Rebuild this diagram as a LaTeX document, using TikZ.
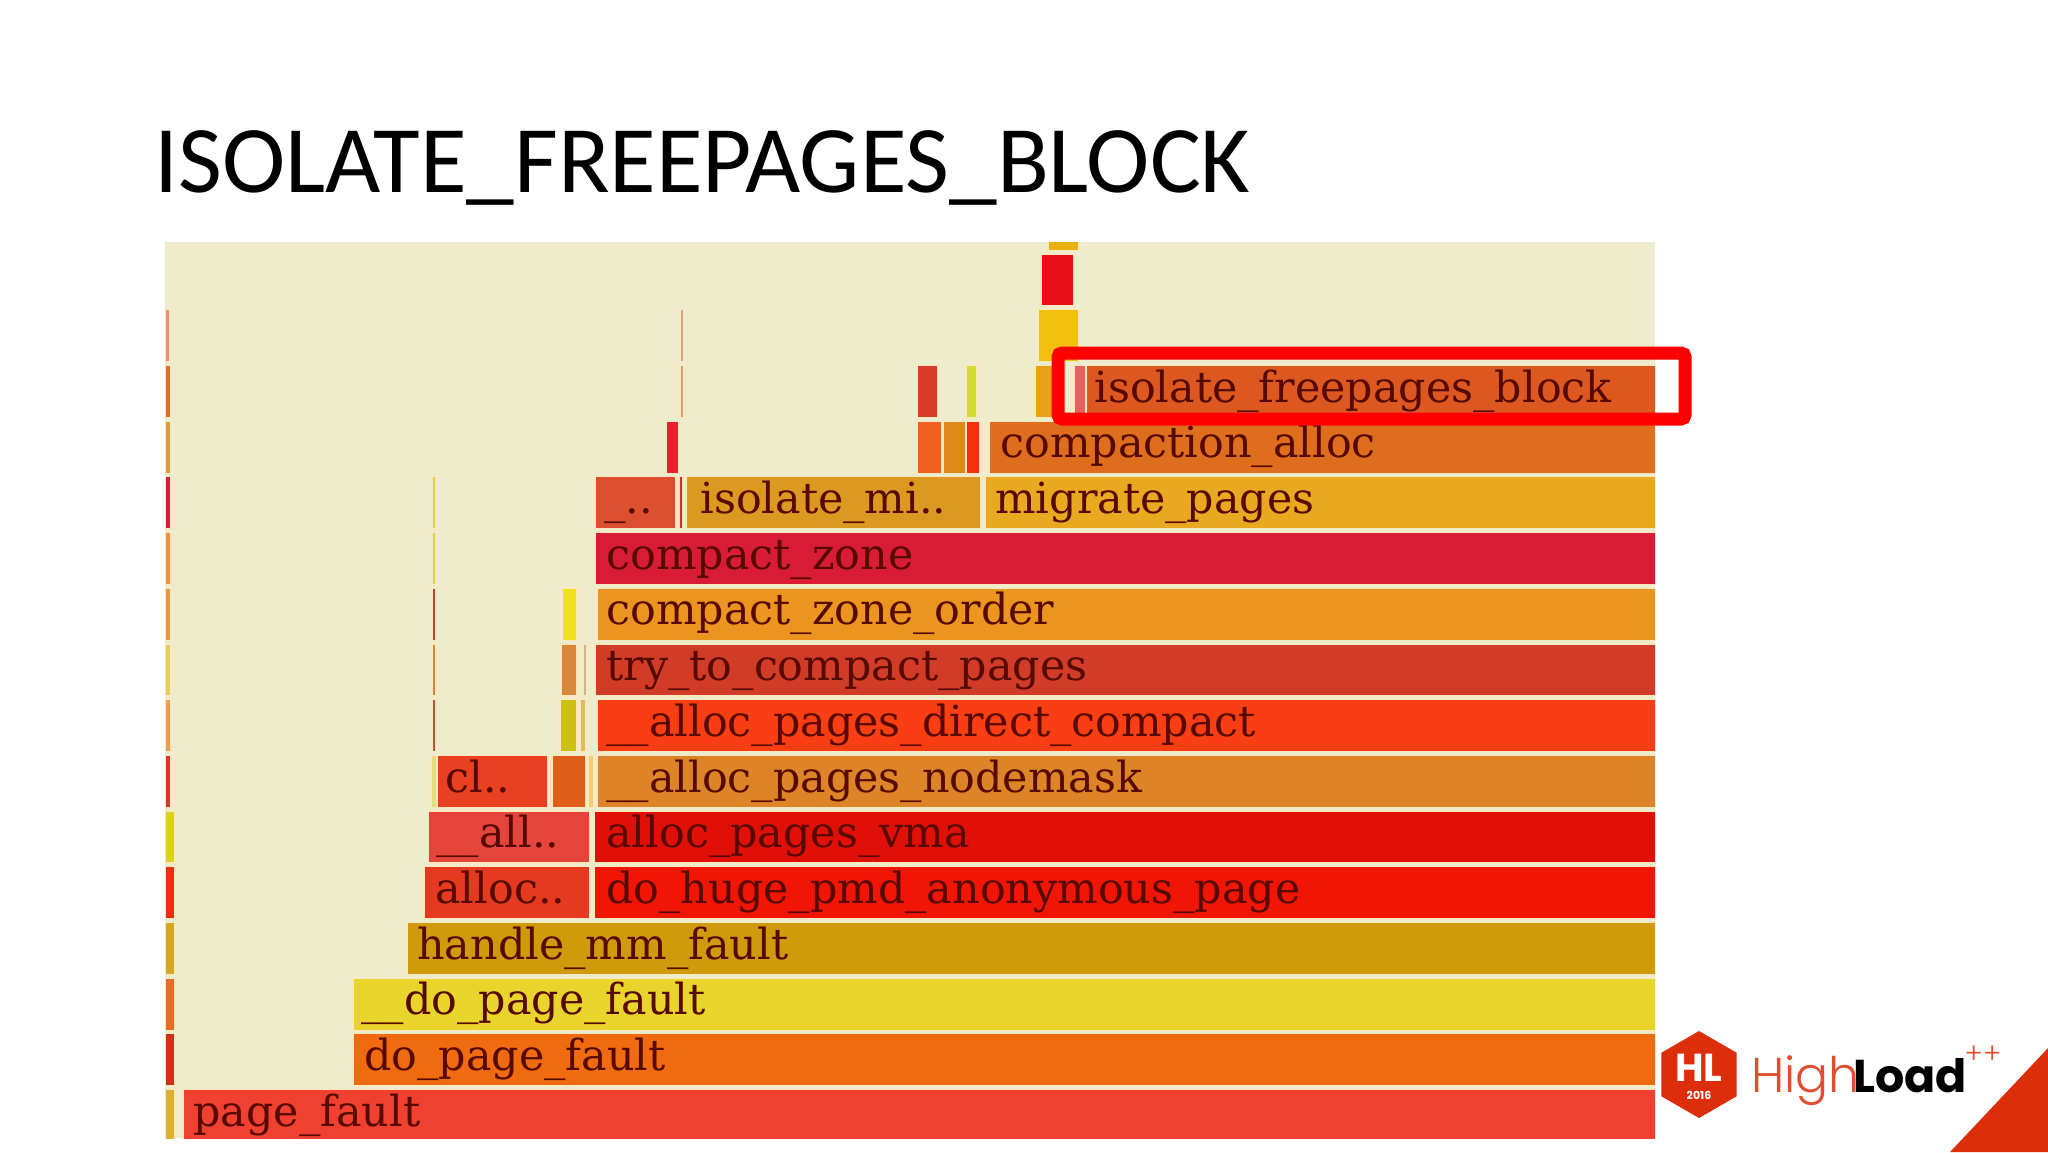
\documentclass[tikz,border=0pt]{standalone}
\usepackage{fontspec}
\setmainfont{Carlito}
\newfontfamily\flamefont{DejaVu Serif}
\newfontfamily\logofont{Poppins}
\newfontfamily\logothin{Poppins Light}
\usetikzlibrary{shapes.geometric}
\definecolor{panelbg}{HTML}{EEECCC}
\definecolor{halo}{HTML}{FBE8BE}
\definecolor{flametext}{HTML}{560A00}
\definecolor{logored}{HTML}{DC2E0A}
\tikzset{
  flamelabel/.style={anchor=base west, inner sep=0pt, text=flametext, font=\flamefont\fontsize{21.4}{24}\selectfont},
  frameline/.style={draw=red, line width=6.5pt, rounded corners=2pt},
}
% x0, x1, row, colour
\newcommand{\flamebar}[4]{\path[fill=#4, draw=halo, line width=0.6pt] (#1,{1089.5-55.7*#3}) rectangle (#2,{1141.5-55.7*#3});}
\begin{document}
\begin{tikzpicture}[x=0.5pt,y=-0.5pt]
\useasboundingbox (0,0) rectangle (2048,1152);
\node (title)[anchor=base west, inner sep=0pt, font=\fontsize{47.7}{50}\selectfont] at (154.5,192.5) {ISOLATE\_FREEPAGES\_BLOCK};
\fill[panelbg] (165,242) rectangle (1655,1138);
\begin{scope}
\clip (165,242) rectangle (1655,1138);
% left edge
\foreach \r/\xb/\col in {0/175/DCB030,1/175/D03018,2/175/EC6A28,3/175/D4A820,4/175/E83010,5/175/DCD018,6/171/D83830,7/171/E8A050,8/171/E0D060,9/171/E89840,10/171/EC9440,11/171/D02040,12/171/D8A040,13/171/E07030,14/170/E89080}
  {\definecolor{barcol}{HTML}{\col}\flamebar{165}{\xb}{\r}{barcol}}
% bars
\foreach \xa/\xb/\r/\col in {183/1660/0/F04030,353/1660/1/F06A10,353/1660/2/E8D42A,407/1660/3/CF9A0C,
  424/590/4/E53A20,594/1660/4/F01505,428/590/5/E4443A,594/1660/5/E01008,
  431/437/6/F0D880,437/548/6/E84020,552/586/6/DE5E18,588/594/6/F0D070,597/1660/6/DE8428,
  432/436/7/B85040,560/577/7/CCC010,580/586/7/D8C060,597/1660/7/FA3E14,
  432/436/8/D0883A,561/577/8/D88838,583/587/8/C8B890,595/1660/8/D03C28,
  432/436/9/B84038,562/577/9/F0E020,597/1660/9/EC9420,
  432/436/10/D4D850,595/1660/10/D81C38,
  432/436/11/D4D850,595/676/11/DC5030,679/683/11/E02818,686/981/11/DC9820,985/1660/11/EAA820,
  666/679/12/E82030,917/942/12/F06020,943/966/12/E08818,966/980/12/F83010,989/1660/12/DE6E1E,
  680/684/13/C8A870,917/938/13/D83C28,966/977/13/D4DC30,1035/1056/13/E8A018,1074/1086/13/E86060,1086/1660/13/DC5820,
  680/684/14/D8A090,1038/1079/14/F4C010,1041/1074/15/E81018,1048/1079/16/E8B010}
  {\definecolor{barcol}{HTML}{\col}\flamebar{\xa}{\xb}{\r}{barcol}}
\end{scope}
% labels
\foreach \nm/\x/\r/\txt in {pagefault/193/0/page\_fault,dopagefault/364/1/do\_page\_fault,
  undopagefault/361/2/\_\_do\_page\_fault,handlemm/417/3/handle\_mm\_fault,
  allocshort/435/4/alloc..,dohuge/606/4/do\_huge\_pmd\_anonymous\_page,
  allshort/436/5/\_\_all..,allocvma/606/5/alloc\_pages\_vma,
  clshort/445/6/cl..,nodemask/606/6/\_\_alloc\_pages\_nodemask,
  directcompact/606/7/\_\_alloc\_pages\_direct\_compact,trycompact/606/8/try\_to\_compact\_pages,
  zoneorder/606/9/compact\_zone\_order,compactzone/606/10/compact\_zone,
  dotshort/604/11/\_..,isolatemi/700/11/isolate\_mi..,migrate/995/11/migrate\_pages,
  compaction/1000/12/compaction\_alloc,freepages/1094/13/isolate\_freepages\_block}
  {\node (\nm)[flamelabel] at (\x,{1126.2-55.7*\r}) {\txt};}
% highlight
\draw[frameline] (1058,353) rectangle (1685,419);
% logo
\node (hex)[regular polygon, regular polygon sides=6, shape border rotate=30, fill=logored, minimum size=43.5pt, inner sep=0pt] at (1699,1074.5) {};
\node (hl)[text=white, inner sep=0pt, font=\logofont\bfseries\fontsize{19.5}{20}\selectfont] at (1699,1068) {HL};
\node (year)[text=white, inner sep=0pt, font=\logofont\bfseries\fontsize{5.5}{6}\selectfont] at (1699,1095.5) {2016};
\node (high)[anchor=base west, inner sep=0pt, text=logored!85!white, font=\logothin\fontsize{24.5}{26}\selectfont] at (1751,1092) {High};
\node (load)[anchor=base west, inner sep=0pt, text=black, font=\logofont\bfseries\fontsize{23}{26}\selectfont] at (1853,1092) {Load};
\node (plus)[inner sep=0pt, text=logored!85!white, font=\logothin\fontsize{14}{16}\selectfont] at (1983,1055) {++};
\fill[logored] (1950,1152) -- (2048,1048) -- (2048,1152) -- cycle;
\end{tikzpicture}
\end{document}
